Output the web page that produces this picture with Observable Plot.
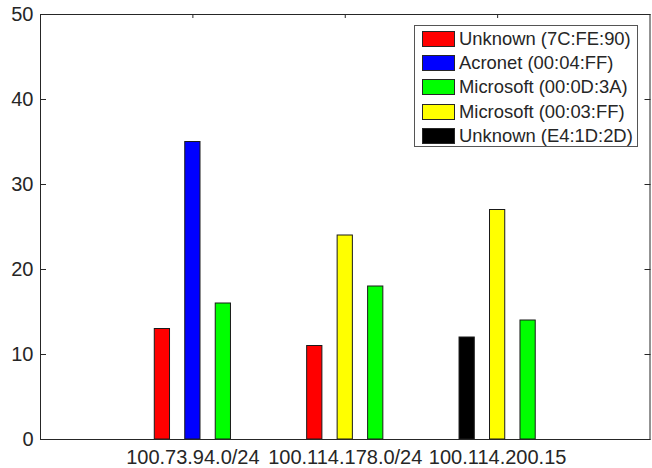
<!DOCTYPE html>
<html>
<head>
<meta charset="utf-8">
<script src="https://cdn.jsdelivr.net/npm/d3@7"></script>
<script src="https://cdn.jsdelivr.net/npm/@observablehq/plot@0.6"></script>
<style>
  html, body { margin: 0; padding: 0; background: #fff; }
  #wrap { position: relative; width: 652px; height: 468px; font-family: "Liberation Sans", Arial, sans-serif; }
  #legend { position: absolute; left: 414px; top: 25px; width: 224px; height: 122px; border: 1px solid #555; background: #fff; box-sizing: border-box; padding-top: 1px; }
  .row { height: 24.2px; display: flex; align-items: center; font-size: 18.4px; color: #262626; white-space: nowrap; }
  .sw { width: 31px; height: 14px; border: 1px solid #262626; margin-left: 7px; margin-right: 4px; flex: none; }
</style>
</head>
<body>
<div id="wrap"></div>
<script>
const groups = ["100.73.94.0/24", "100.114.178.0/24", "100.114.200.15"];
const vendors = ["Unknown (7C:FE:90)", "Acronet (00:04:FF)", "Microsoft (00:0D:3A)", "Microsoft (00:03:FF)", "Unknown (E4:1D:2D)"];
const vendorColors = ["#ff0000", "#0000ff", "#00ff00", "#ffff00", "#000000"];
const barVendor = [[0, 1, 2], [0, 3, 2], [4, 3, 2]];
const barValues = [[13, 35, 16], [11, 24, 18], [12, 27, 14]];
const yTicks = [0, 10, 20, 30, 40, 50];

const rows = [];
groups.forEach((g, i) => {
  barVendor[i].forEach((v, j) => {
    rows.push({g: i + 1, slot: j, vendor: vendors[v], value: barValues[i][j]});
  });
});
const off = 0.2, half = 0.05;
const ink = "#262626";

const chart = Plot.plot({
  width: 652,
  height: 468,
  marginLeft: 40,
  marginRight: 2.5,
  marginTop: 14,
  marginBottom: 29,
  style: {fontFamily: '"Liberation Sans", Arial, sans-serif', color: ink, background: "#fff"},
  x: {domain: [0, 4]},
  y: {domain: [0, 50]},
  color: {domain: vendors, range: vendorColors},
  marks: [
    Plot.rectY(rows, {
      x1: d => d.g + (d.slot - 1) * off - half,
      x2: d => d.g + (d.slot - 1) * off + half,
      y1: 0,
      y2: "value",
      fill: "vendor",
      stroke: "#1a1a1a",
      strokeWidth: 1
    }),
    Plot.axisY({ticks: yTicks, tickSize: -6, tickPadding: 13, fontSize: 20, label: null, stroke: ink, fill: ink}),
    Plot.axisY({anchor: "right", ticks: yTicks, tickSize: -6, tickFormat: () => "", label: null, stroke: ink}),
    Plot.axisX({ticks: [1, 2, 3], tickSize: 0, tickPadding: 10, fontSize: 20, tickFormat: d => groups[d - 1], label: null, fill: ink}),
    Plot.axisX({anchor: "top", ticks: [1, 2, 3], tickSize: -3, tickFormat: () => "", label: null, stroke: ink}),
    Plot.frame({stroke: ink})
  ]
});

const wrap = document.getElementById("wrap");
wrap.appendChild(chart);
const leg = document.createElement("div");
leg.id = "legend";
vendors.forEach((v, i) => {
  const r = document.createElement("div");
  r.className = "row";
  const s = document.createElement("div");
  s.className = "sw";
  s.style.background = vendorColors[i];
  const t = document.createElement("span");
  t.textContent = v;
  r.appendChild(s);
  r.appendChild(t);
  leg.appendChild(r);
});
wrap.appendChild(leg);
</script>
</body>
</html>
